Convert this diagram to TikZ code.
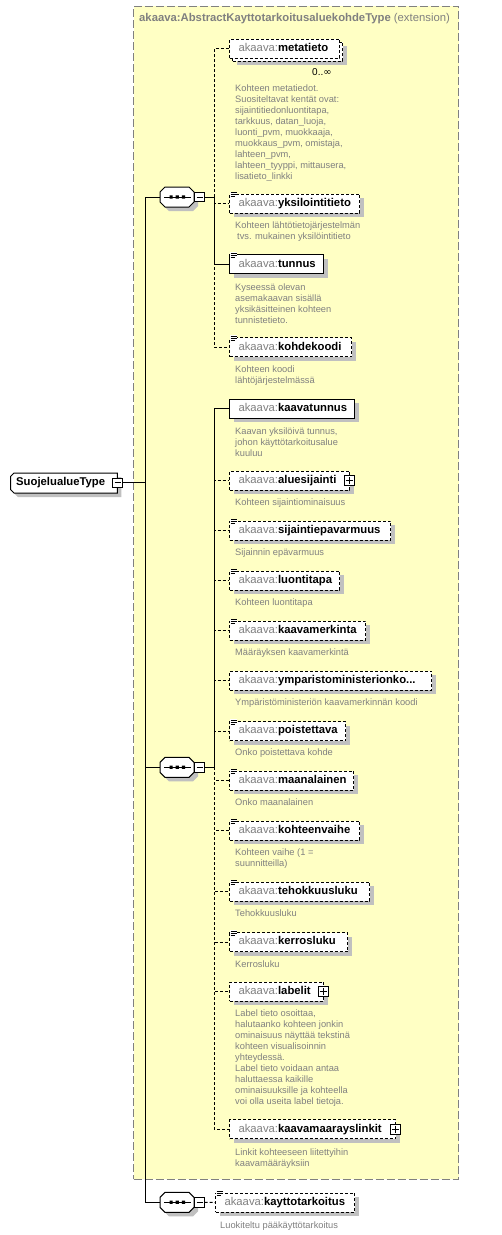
\documentclass[tikz,border=0pt]{standalone}
\usepackage{fontspec}
\setmainfont{Liberation Sans}
\newfontfamily\symfont{DejaVu Sans}
\usetikzlibrary{shadows,calc}
\definecolor{extfill}{HTML}{FFFFC4}
\definecolor{pfx}{HTML}{808080}
\definecolor{descgray}{HTML}{808080}
\definecolor{shadowgray}{HTML}{C0C0C0}
\definecolor{extborder}{HTML}{808080}
\tikzset{
  elbase/.style={draw=black, fill=white, line width=1pt, inner xsep=0pt, inner ysep=0pt,
    minimum height=19pt, text height=8pt, text depth=2.2pt, font=\fontsize{11.3}{13}\selectfont},
  elsolid/.style={elbase, drop shadow={shadow xshift=4pt, shadow yshift=-4pt, fill=shadowgray, opacity=1}},
  eldash/.style={elsolid, dash pattern=on 3pt off 2pt},
  eldashns/.style={elbase, dash pattern=on 3pt off 2pt},
  pmbox/.style={draw=black, fill=white, line width=0.9pt, minimum size=9.5pt, inner sep=0pt},
  conn/.style={line width=1pt, draw=black},
  dconn/.style={line width=1pt, draw=black, dash pattern=on 3pt off 2pt},
  desc/.style={inner sep=0pt, text=descgray, font=\fontsize{9.3}{11}\selectfont},
}
\newcommand\xel[6]{\node[#2, minimum width=#5pt, anchor=west] (#1) at (#3,#4)
  {\hbox to #5pt{\hspace{9pt}\textcolor{pfx}{akaava:}\textbf{#6}\hfil}};}
\newcommand\ticon[1]{\begin{scope}[shift={(#1.north west)}]
  \fill[white] (1,-2) rectangle (8,3.6);
  \draw[line width=.8pt] (1.5,-1)--(7.5,-1) (1.5,1)--(7.5,1) (1.5,3)--(5.5,3);
  \end{scope}}
\newcommand\plusb[1]{\node[pmbox, minimum size=10pt] (#1p) at ($(#1.east)+(-1,0)$) {};
  \draw[line width=.9pt] ($(#1p.center)+(-3.5,0)$)--($(#1p.center)+(3.5,0)$)
    ($(#1p.center)+(0,-3.5)$)--($(#1p.center)+(0,3.5)$);}
\newcommand\dlines[1]{\vtop{\baselineskip=11pt\lineskiplimit=-20pt\lineskip=0pt #1}}
\newcommand\seqc[2]{%
  \begin{scope}[shift={(0,#2)}]
    \fill[shadowgray] (169,-6)--(193,-6)--(198,-1)--(198,9)--(193,14)--(169,14)--(164,9)--(164,-1)--cycle;
    \filldraw[fill=white, draw=black, line width=1pt] (165,-10)--(189,-10)--(194,-5)--(194,5)--(189,10)--(165,10)--(160,5)--(160,-5)--cycle;
    \draw[line width=1pt] (164,0)--(190.5,0);
    \fill (169.5,-1.6) rectangle (172.7,1.6) (175.7,-1.6) rectangle (178.9,1.6) (181.9,-1.6) rectangle (185.1,1.6);
  \end{scope}
  \node[inner sep=0pt, minimum width=34pt, minimum height=20pt] (#1) at (177,#2) {};
  \node[pmbox] (#1m) at (199.5,#2) {};
  \draw[line width=.9pt] ($(#1m.center)+(-3,0)$)--($(#1m.center)+(3,0)$);}
\begin{document}
\begin{tikzpicture}[x=1pt,y=-1pt]
\useasboundingbox (0,0) rectangle (501,1235);
\fill[white] (0,0) rectangle (501,1235);
% extension box
\node[draw=extborder, fill=extfill, line width=1.3pt, dash pattern=on 8pt off 3pt,
  minimum width=325pt, minimum height=1173pt, anchor=north west, inner sep=0pt] (ext) at (133,5.5) {};
\node[anchor=west, inner sep=0pt, text=pfx, font=\fontsize{11.3}{13}\selectfont] (title) at (139,19)
  {\textbf{akaava:AbstractKayttotarkoitusaluekohdeType} (extension)};

% type node
\fill[shadowgray] (18,477)--(121.3,477)--(121.3,497)--(18,497)--(14.7,493.7)--(14.7,480.3)--cycle;
\filldraw[fill=white, draw=black, line width=1pt] (14,473)--(117.3,473)--(117.3,493)--(14,493)--(10.7,489.7)--(10.7,476.3)--cycle;
\node[anchor=west, inner sep=0pt, font=\bfseries\fontsize{11.3}{13}\selectfont, text height=8pt, text depth=2.2pt] (stype) at (16,483) {SuojelualueType};
\node[pmbox] (stm) at (117.5,482.7) {};
\draw[line width=.9pt] ($(stm.center)+(-3,0)$)--($(stm.center)+(3,0)$);

% compositors
\seqc{s1}{197}
\seqc{s2}{767.3}
\seqc{s3}{1202.3}

\coordinate (trunk) at (145.3,482.7);
\coordinate (j1) at (214.3,197);
\coordinate (j2) at (214.3,767.3);

% elements
\node[eldash, minimum width=110pt, anchor=west] (metab) at (232,51.5) {\hbox to 110pt{}};
\xel{meta}{eldashns}{229}{48.5}{110}{metatieto}
\node[anchor=west, inner sep=0pt, font=\fontsize{10}{11}\selectfont] (metaocc) at (312,72) {0..{\symfont ∞}};
\xel{yks}{eldash}{229}{203.7}{130}{yksilointitieto}
\xel{tun}{elsolid}{229}{264.3}{94}{tunnus}
\xel{kohd}{eldash}{229}{347.3}{122}{kohdekoodi}
\xel{kt}{elsolid}{229}{408.5}{125}{kaavatunnus}
\xel{als}{eldash}{229}{480.5}{120}{aluesijainti}
\xel{sep}{eldash}{229}{530.7}{161}{sijaintiepavarmuus}
\xel{lt}{eldash}{229}{580.5}{110}{luontitapa}
\xel{km}{eldash}{229}{630.7}{136}{kaavamerkinta}
\xel{ymp}{eldash}{229}{680.5}{202}{ymparistoministerionko...}
\xel{poi}{eldash}{229}{731}{116}{poistettava}
\xel{maa}{eldash}{229}{780.7}{124}{maanalainen}
\xel{kv}{eldash}{229}{830.7}{130}{kohteenvaihe}
\xel{teh}{eldash}{229}{891.7}{140}{tehokkuusluku}
\xel{ker}{eldash}{229}{942}{118}{kerrosluku}
\xel{lab}{eldash}{229}{991.5}{94}{labelit}
\xel{kml}{eldash}{229}{1129.3}{166}{kaavamaarayslinkit}
\xel{kay}{eldash}{215}{1202.5}{139}{kayttotarkoitus}

\ticon{yks}\ticon{tun}\ticon{kohd}\ticon{sep}\ticon{lt}\ticon{km}\ticon{poi}
\ticon{maa}\ticon{kv}\ticon{teh}\ticon{ker}\ticon{kay}
\plusb{als}\plusb{lab}\plusb{kml}

% connectors
\draw[conn] (stm.east) -- (trunk);
\draw[conn] (s1.west) -| (trunk);
\draw[conn] (s2.west) -| (trunk);
\draw[conn] (s3.west) -| (trunk);
\draw[conn] (s1m.east) -- (j1);
\draw[conn] (s2m.east) -- (j2);
\draw[dconn] (j1) |- (meta.west);
\draw[dconn] (j1) |- (yks.west);
\draw[dconn] (j1) |- (kohd.west);
\draw[conn] (j1) |- (tun.west);
\draw[dconn] (j2) |- (als.west);
\draw[dconn] (j2) |- (sep.west);
\draw[dconn] (j2) |- (lt.west);
\draw[dconn] (j2) |- (km.west);
\draw[dconn] (j2) |- (ymp.west);
\draw[dconn] (j2) |- (poi.west);
\draw[dconn] (j2) |- (maa.west);
\draw[dconn] (j2) |- (kv.west);
\draw[dconn] (j2) |- (teh.west);
\draw[dconn] (j2) |- (ker.west);
\draw[dconn] (j2) |- (lab.west);
\draw[dconn] (j2) |- (kml.west);
\draw[conn] (j2) |- (kt.west);
\draw[dconn] (s3m.east) -- (kay.west);

% descriptions
\node[desc, anchor=base west] (dmeta) at (235,91.5) {\dlines{\hbox{Kohteen metatiedot.}\hbox{Suositeltavat kentät ovat:}\hbox{sijaintitiedonluontitapa,}\hbox{tarkkuus, datan\_luoja,}\hbox{luonti\_pvm, muokkaaja,}\hbox{muokkaus\_pvm, omistaja,}\hbox{lahteen\_pvm,}\hbox{lahteen\_tyyppi, mittausera,}\hbox{lisatieto\_linkki}}};
\node[desc, anchor=base west] (dyks) at (235,228.7) {\dlines{\hbox{Kohteen lähtötietojärjestelmän}\hbox{\hspace{2pt}tvs. mukainen yksilöintitieto}}};
\node[desc, anchor=base west] (dtun) at (235,290) {\dlines{\hbox{Kyseessä olevan}\hbox{asemakaavan sisällä}\hbox{yksikäsitteinen kohteen}\hbox{tunnistetieto.}}};
\node[desc, anchor=base west] (dkohd) at (235,372.3) {\dlines{\hbox{Kohteen koodi}\hbox{lähtöjärjestelmässä}}};
\node[desc, anchor=base west] (dkt) at (235,434) {\dlines{\hbox{Kaavan yksilöivä tunnus,}\hbox{johon käyttötarkoitusalue}\hbox{kuuluu}}};
\node[desc, anchor=base west] (dals) at (235,505.7) {Kohteen sijaintiominaisuus};
\node[desc, anchor=base west] (dsep) at (235,555.7) {Sijainnin epävarmuus};
\node[desc, anchor=base west] (dlt) at (235,605.7) {Kohteen luontitapa};
\node[desc, anchor=base west] (dkm) at (235,655.7) {Määräyksen kaavamerkintä};
\node[desc, anchor=base west] (dymp) at (235,705.7) {Ympäristöministeriön kaavamerkinnän koodi};
\node[desc, anchor=base west] (dpoi) at (235,755.7) {Onko poistettava kohde};
\node[desc, anchor=base west] (dmaa) at (235,805.7) {Onko maanalainen};
\node[desc, anchor=base west] (dkv) at (235,855.7) {\dlines{\hbox{Kohteen vaihe (1 =}\hbox{suunnitteilla)}}};
\node[desc, anchor=base west] (dteh) at (235,916.3) {Tehokkuusluku};
\node[desc, anchor=base west] (dker) at (235,967) {Kerrosluku};
\node[desc, anchor=base west] (dlab) at (235,1016.3) {\dlines{\hbox{Label tieto osoittaa,}\hbox{halutaanko kohteen jonkin}\hbox{ominaisuus näyttää tekstinä}\hbox{kohteen visualisoinnin}\hbox{yhteydessä.}\hbox{Label tieto voidaan antaa}\hbox{haluttaessa kaikille}\hbox{ominaisuuksille ja kohteella}\hbox{voi olla useita label tietoja.}}};
\node[desc, anchor=base west] (dkml) at (235,1155) {\dlines{\hbox{Linkit kohteeseen liitettyihin}\hbox{kaavamääräyksiin}}};
\node[desc, anchor=base west] (dkay) at (220,1228) {Luokiteltu pääkäyttötarkoitus};
\end{tikzpicture}
\end{document}
